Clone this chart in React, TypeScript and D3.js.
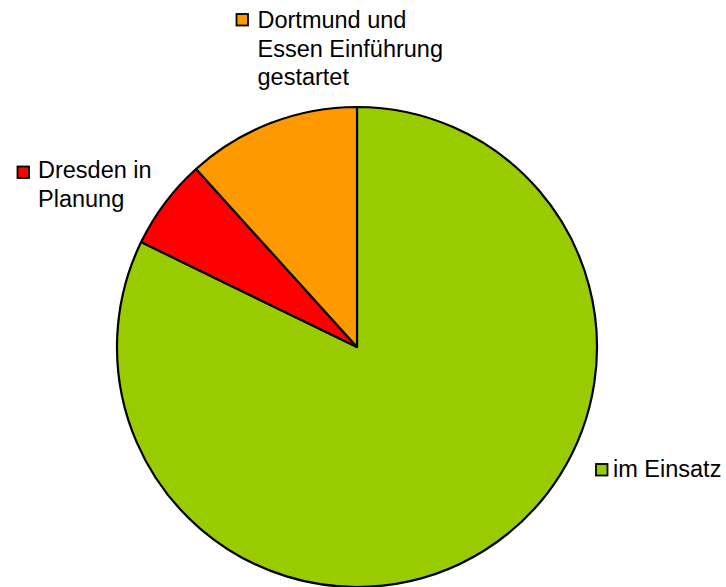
import React from "react";
import * as d3 from "d3";

const categories = ["im Einsatz", "Dresden in Planung", "Dortmund und Essen Einführung gestartet"];
const values = [82.2, 6.1, 11.7];
const colors = ["#99CC00", "#FF0000", "#FF9900"];
const labelLines = [["im Einsatz"], ["Dresden in", "Planung"], ["Dortmund und", "Essen Einführung", "gestartet"]];

const W = 726, H = 587;
const cx = 357, cy = 347, R = 240;

const labelPos = [
  { sx: 596, sy: 464, tx: 613, ty: 477 },
  { sx: 17.5, sy: 166.5, tx: 38, ty: 178 },
  { sx: 236.5, sy: 14, tx: 257.5, ty: 28 },
];

export default function App() {
  const pie = d3.pie<number>().sort(null).value((d) => d).startAngle(0).endAngle(2 * Math.PI);
  const arcs = pie(values);
  const arc = d3.arc<d3.PieArcDatum<number>>().innerRadius(0).outerRadius(R);
  return (
    <svg width={W} height={H} style={{ position: "absolute", left: 0, top: 0 }}>
      <rect width={W} height={H} fill="#fff" />
      <g transform={`translate(${cx},${cy})`}>
        {arcs.map((a, i) => (
          <path key={categories[i]} d={arc(a) || ""} fill={colors[i]} stroke="#000" strokeWidth={2.2} strokeLinejoin="round" />
        ))}
      </g>
      {labelLines.map((lines, i) => {
        const p = labelPos[i];
        return (
          <g key={i}>
            <rect x={p.sx} y={p.sy} width={11.5} height={11.5} fill={colors[i]} stroke="#000" strokeWidth={1.8} />
            <text x={p.tx} y={p.ty} fontFamily="Liberation Sans, Arial, sans-serif" fontSize={23.5} fill="#000">
              {lines.map((l, j) => (
                <tspan key={j} x={p.tx} dy={j === 0 ? 0 : 28.7}>{l}</tspan>
              ))}
            </text>
          </g>
        );
      })}
    </svg>
  );
}
